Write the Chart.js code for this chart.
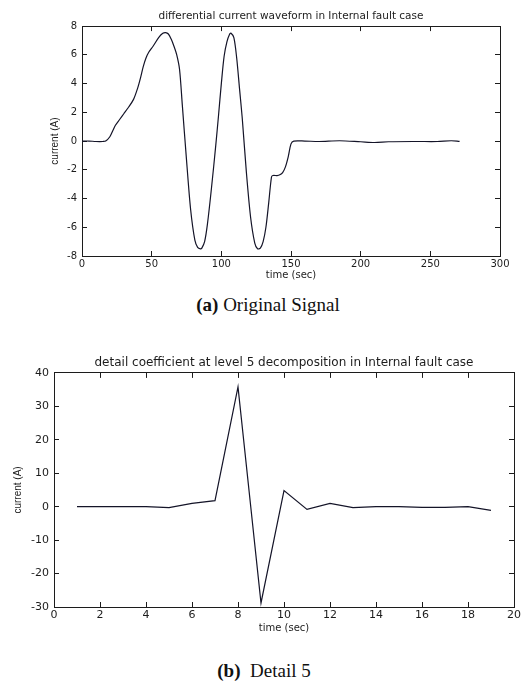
<!DOCTYPE html>
<html>
<head>
  <title>Internal fault case</title>
  <script src="https://cdn.jsdelivr.net/npm/chart.js"></script>
  <style>
    body { margin: 0; background: #fff; width: 528px; height: 687px; position: relative; overflow: hidden; }
    canvas { position: absolute; left: 0; }
    .cap { position: absolute; left: 0; width: 528px; text-align: center; font-family: "Liberation Serif", "Times New Roman", serif; color: #111; }
  </style>
</head>
<body>
  <canvas id="wave" width="528" height="282" style="top:0"></canvas>
  <div class="cap" style="top:294px; font-size:19px; left:4px"><b>(a)</b> Original Signal</div>
  <canvas id="detail" width="528" height="295" style="top:340px"></canvas>
  <div class="cap" style="top:660px; font-size:19px; left:0px"><b>(b)</b>&nbsp; Detail 5</div>

  <script>
    // (a) differential current waveform
    let waveTime = [0, 5, 10, 15, 17, 20, 22, 24, 27, 30, 33, 37, 40, 42, 44, 46, 48, 51, 55, 58, 60, 62, 64, 66, 68, 70, 72, 75, 78, 81, 83, 85, 86, 88, 90, 93, 96, 98, 100, 102, 104, 106, 107, 109, 111, 113, 115, 118, 121, 124, 126, 128, 130, 132, 134, 136, 137, 140, 142, 144, 146, 148, 150, 152, 160, 170, 185, 200, 210, 220, 240, 255, 265, 271];
    let waveCurrent = [0, 0, -0.03, -0.03, 0, 0.3, 0.7, 1.1, 1.5, 1.9, 2.3, 2.9, 3.7, 4.4, 5.2, 5.8, 6.2, 6.6, 7.2, 7.5, 7.55, 7.45, 7.1, 6.6, 6.0, 5.0, 2.5, -1.3, -4.8, -6.9, -7.4, -7.5, -7.45, -7.0, -5.8, -3.2, -0.3, 1.8, 4.0, 5.9, 6.9, 7.45, 7.5, 7.2, 5.8, 3.7, 1.6, -2.2, -5.3, -7.1, -7.5, -7.45, -7.0, -6.0, -4.3, -2.5, -2.4, -2.4, -2.35, -2.2, -1.8, -1.1, -0.2, 0, 0, -0.03, 0.02, -0.05, -0.1, -0.05, -0.03, -0.03, 0.02, -0.02];

    // (b) detail coefficient at level 5
    let detailTime = [1, 2, 3, 4, 5, 6, 7, 8, 9, 10, 11, 12, 13, 14, 15, 16, 17, 18, 19];
    let detailCurrent = [0, 0, 0, 0, -0.3, 1.0, 1.8, 35.8, -28.8, 4.8, -0.8, 1.0, -0.3, 0, 0, -0.2, -0.2, 0, -1.1];

    let waveXTicks = [0, 50, 100, 150, 200, 250, 300];
    let waveYTicks = [-8, -6, -4, -2, 0, 2, 4, 6, 8];
    let detailXTicks = [0, 2, 4, 6, 8, 10, 12, 14, 16, 18, 20];
    let detailYTicks = [-30, -20, -10, 0, 10, 20, 30, 40];

    let sans = "DejaVu Sans, Arial, sans-serif";
    let ink = "#1c1c1c";

    function toPoints(xs, ys) {
      return xs.map((x, i) => ({ x: x, y: ys[i] }));
    }

    function fixedTicks(values) {
      return function (scale) {
        scale.ticks = values.map(v => ({ value: v }));
      };
    }

    function makeChart(id, opts) {
      let sideAxis = (position, ticks, min, max) => ({
        type: "linear", position: position, min: min, max: max,
        afterBuildTicks: fixedTicks(ticks),
        afterFit: s => { if (position === "top") s.height = 0; else s.width = 0; },
        grid: { drawOnChartArea: false, color: ink, tickLength: -5 },
        border: { color: ink },
        ticks: { display: false }
      });
      let tickFont = { family: sans, size: opts.tickSize };

      return new Chart(document.getElementById(id), {
        type: "line",
        data: {
          datasets: [{
            data: toPoints(opts.xs, opts.ys),
            borderColor: "#141428",
            borderWidth: 1.2,
            pointRadius: 0,
            tension: opts.tension,
            fill: false
          }]
        },
        options: {
          responsive: false,
          animation: false,
          layout: { padding: { left: 0, right: opts.right, top: 0, bottom: 0 } },
          plugins: {
            legend: { display: false },
            tooltip: { enabled: false },
            title: {
              display: true,
              fullSize: false,
              text: opts.title,
              color: ink,
              font: { family: sans, size: opts.titleSize, weight: "normal", lineHeight: 1.2 },
              padding: opts.titlePad
            }
          },
          scales: {
            x: {
              type: "linear", position: "bottom", min: opts.xMin, max: opts.xMax,
              afterBuildTicks: fixedTicks(opts.xTicks),
              afterFit: s => { s.height = opts.xHeight; },
              grid: { drawOnChartArea: false, color: ink, tickLength: -5 },
              border: { color: ink },
              ticks: { color: ink, font: tickFont, padding: opts.xPad, autoSkip: false, maxRotation: 0 },
              title: { display: true, text: "time (sec)", color: ink, font: { family: sans, size: 10, lineHeight: 1.2 }, padding: { top: 0, bottom: opts.xTitlePad } }
            },
            y: {
              type: "linear", position: "left", min: opts.yMin, max: opts.yMax,
              afterBuildTicks: fixedTicks(opts.yTicks),
              afterFit: s => { s.width = opts.yWidth; },
              grid: { drawOnChartArea: false, color: ink, tickLength: -5 },
              border: { color: ink },
              ticks: { color: ink, font: tickFont, padding: 10, autoSkip: false },
              title: { display: true, text: "current (A)", color: ink, font: { family: "Liberation Sans Narrow, Arial Narrow, sans-serif", size: 10 }, padding: { top: opts.yTitlePad, bottom: 0 } }
            },
            x2: sideAxis("top", opts.xTicks, opts.xMin, opts.xMax),
            y2: sideAxis("right", opts.yTicks, opts.yMin, opts.yMax)
          }
        }
      });
    }

    makeChart("wave", {
      xs: waveTime, ys: waveCurrent, tension: 0.3,
      title: "differential current waveform in Internal fault case",
      titleSize: 10.5, titlePad: { top: 9.5, bottom: 4 }, tickSize: 10,
      xMin: 0, xMax: 300, xTicks: waveXTicks,
      yMin: -8, yMax: 8, yTicks: waveYTicks,
      xHeight: 26, xPad: 7, xTitlePad: 1,
      yWidth: 82, yTitlePad: 49, right: 28
    });

    makeChart("detail", {
      xs: detailTime, ys: detailCurrent, tension: 0,
      title: "detail coefficient at level 5 decomposition in Internal fault case",
      titleSize: 12, titlePad: { top: 15.5, bottom: 3 }, tickSize: 11,
      xMin: 0, xMax: 20, xTicks: detailXTicks,
      yMin: -30, yMax: 40, yTicks: detailYTicks,
      xHeight: 28, xPad: 7, xTitlePad: 1,
      yWidth: 54, yTitlePad: 12, right: 12
    });
  </script>
</body>
</html>
